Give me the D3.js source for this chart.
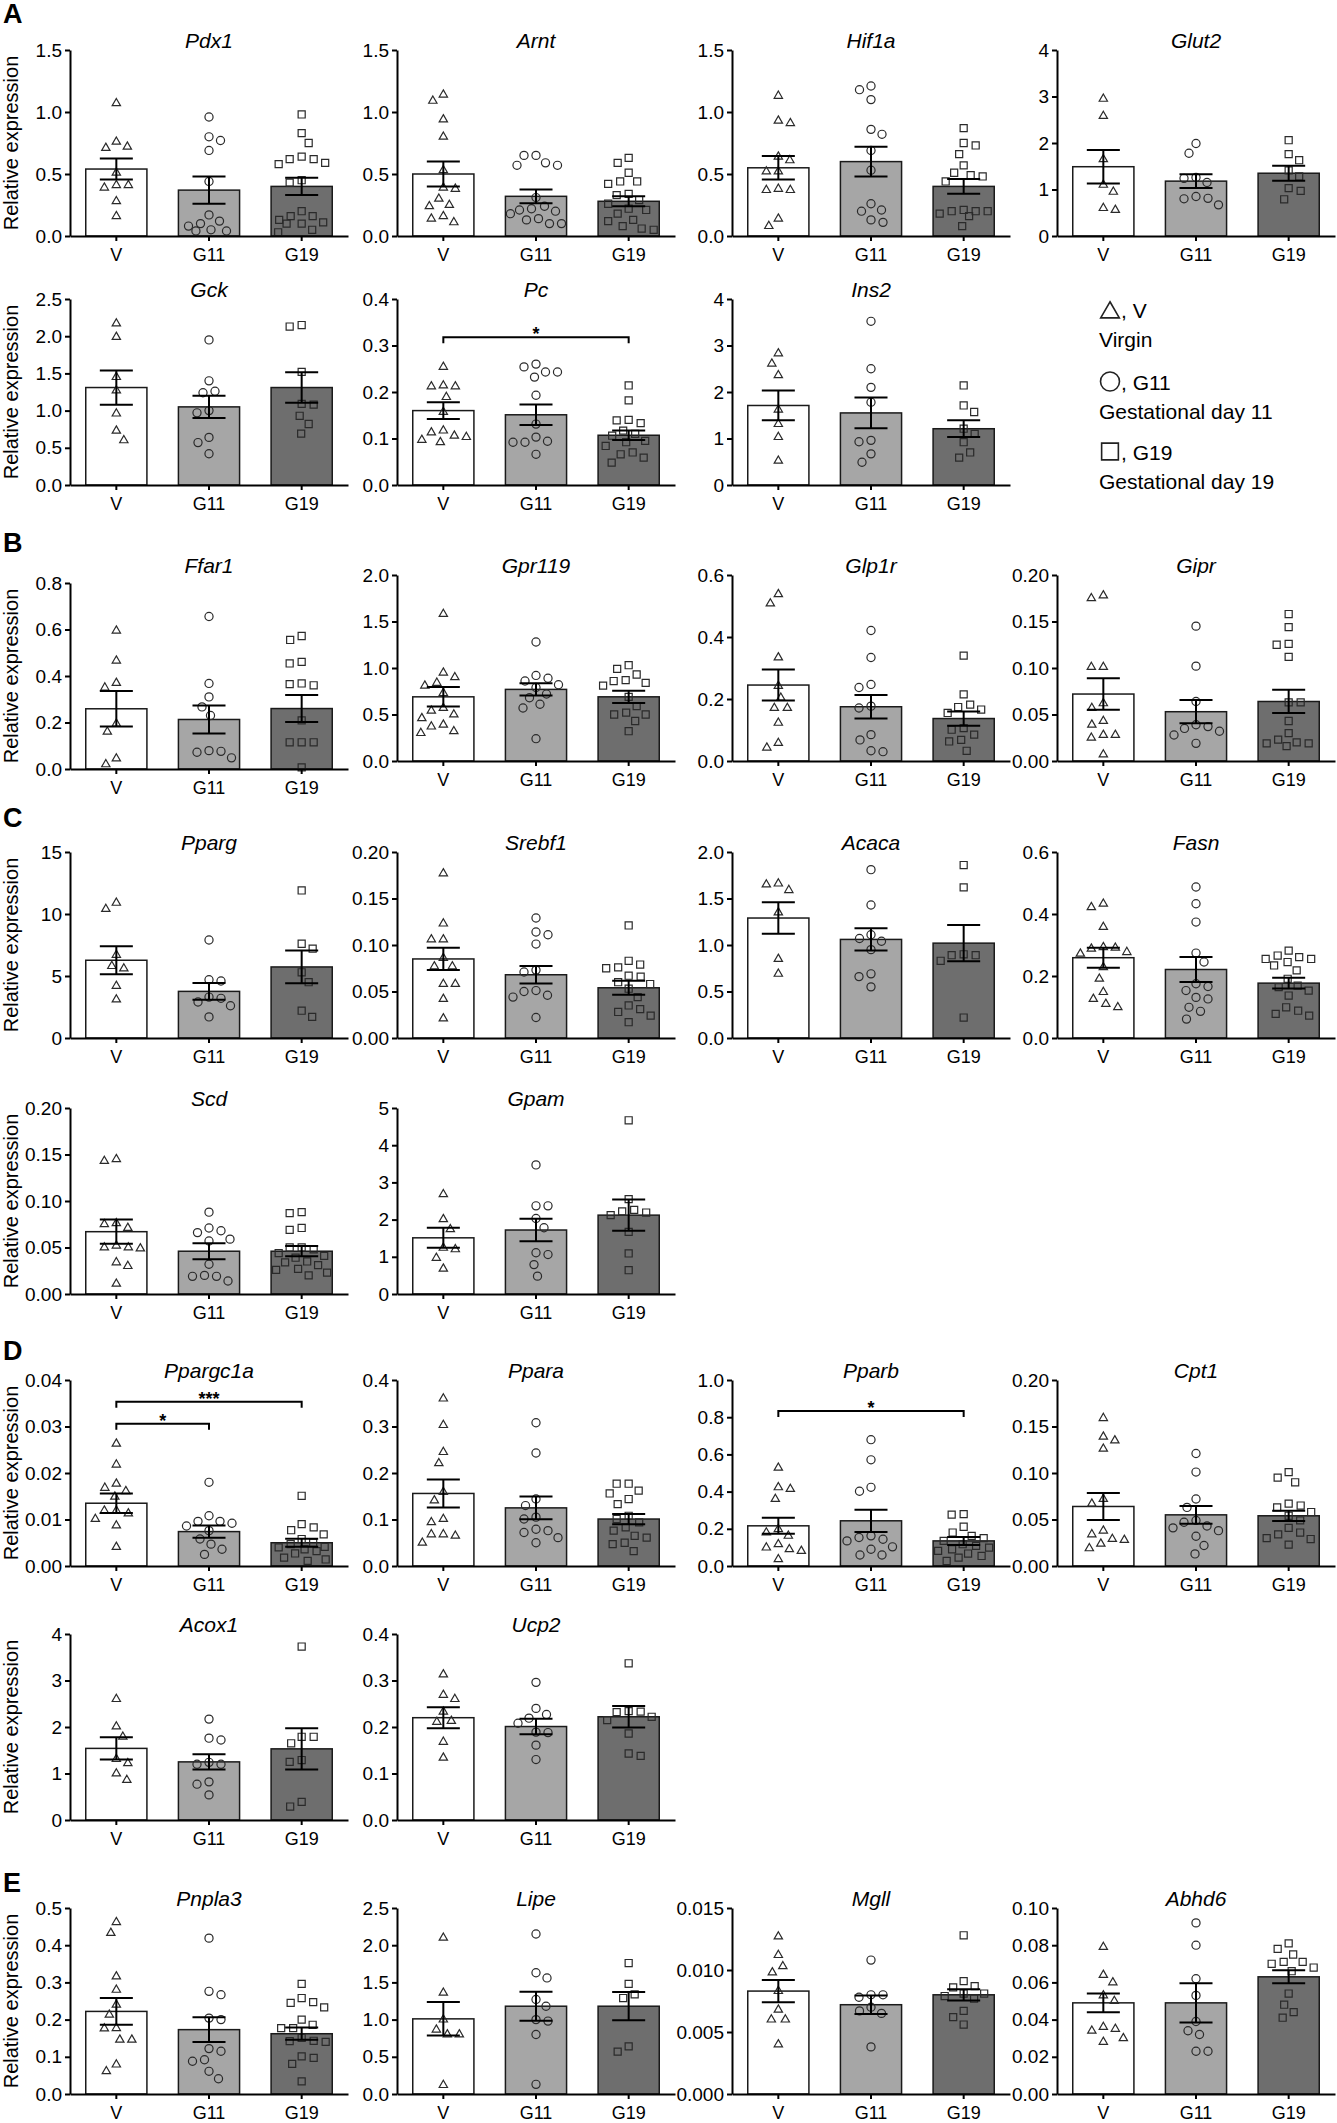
<!DOCTYPE html>
<html>
<head>
<meta charset="utf-8">
<script src="https://cdn.jsdelivr.net/npm/d3@7"></script>
<style>
  body { margin: 0; background: #fff; }
  svg { display: block; font-family: "Liberation Sans", Arial, sans-serif; }
</style>
</head>
<body>
<div id="chartHolder"></div>
<script>
// groups shown on every x axis
const groups = ["V", "G11", "G19"];
const groupNames = ["Virgin", "Gestational day 11", "Gestational day 19"];

// points per gene: [V, G11, G19], bar = mean, whisker = SEM, y tick labels
const pdx1 = [[1.07, 0.76, 0.72, 0.71, 0.51, 0.41, 0.41, 0.39, 0.28, 0.16],
  [0.96, 0.80, 0.77, 0.69, 0.44, 0.17, 0.12, 0.10, 0.08, 0.05, 0.04, 0.04],
  [0.98, 0.83, 0.75, 0.64, 0.62, 0.62, 0.59, 0.58, 0.45, 0.43, 0.20, 0.16, 0.16, 0.13, 0.11, 0.10, 0.10, 0.05, 0.03]];
const pdx1Mean = [0.54, 0.37, 0.40], pdx1Sem = [0.085, 0.11, 0.07];
const pdx1Ticks = ["0.0", "0.5", "1.0", "1.5"];

const arnt = [[1.14, 1.09, 0.94, 0.80, 0.53, 0.39, 0.38, 0.30, 0.25, 0.24, 0.16, 0.14, 0.11],
  [0.65, 0.65, 0.59, 0.57, 0.57, 0.31, 0.24, 0.22, 0.21, 0.20, 0.18, 0.14, 0.13, 0.10, 0.10],
  [0.63, 0.59, 0.51, 0.44, 0.44, 0.42, 0.34, 0.33, 0.29, 0.26, 0.22, 0.21, 0.18, 0.13, 0.12, 0.08, 0.06, 0.05]];
const arntMean = [0.50, 0.32, 0.28], arntSem = [0.10, 0.055, 0.04];
const arntTicks = ["0.0", "0.5", "1.0", "1.5"];

const hif1a = [[1.13, 0.93, 0.91, 0.64, 0.61, 0.52, 0.52, 0.38, 0.37, 0.37, 0.14, 0.08],
  [1.21, 1.18, 1.10, 0.86, 0.82, 0.69, 0.53, 0.26, 0.21, 0.20, 0.13, 0.11],
  [0.87, 0.75, 0.73, 0.66, 0.57, 0.51, 0.49, 0.48, 0.44, 0.21, 0.20, 0.20, 0.20, 0.18, 0.16, 0.08]];
const hif1aMean = [0.55, 0.60, 0.40], hif1aSem = [0.095, 0.12, 0.06];
const hif1aTicks = ["0.0", "0.5", "1.0", "1.5"];

const glut2 = [[2.95, 2.58, 1.65, 1.10, 0.95, 0.60, 0.56],
  [1.99, 1.78, 1.26, 1.24, 1.15, 0.85, 0.81, 0.80, 0.67],
  [2.06, 1.76, 1.63, 1.41, 1.28, 1.03, 0.97, 0.79]];
const glut2Mean = [1.49, 1.18, 1.35], glut2Sem = [0.36, 0.15, 0.16];
const glut2Ticks = ["0", "1", "2", "3", "4"];

const gck = [[2.17, 1.99, 1.45, 1.27, 0.96, 0.73, 0.60],
  [1.95, 1.40, 1.26, 1.24, 1.00, 0.97, 0.64, 0.57, 0.42],
  [2.15, 2.13, 1.52, 1.09, 1.08, 0.93, 0.82, 0.69]];
const gckMean = [1.31, 1.05, 1.31], gckSem = [0.23, 0.15, 0.205];
const gckTicks = ["0.0", "0.5", "1.0", "1.5", "2.0", "2.5"];

const pc = [[0.254, 0.214, 0.212, 0.212, 0.189, 0.157, 0.117, 0.113, 0.106, 0.103, 0.097, 0.092],
  [0.260, 0.254, 0.243, 0.243, 0.232, 0.193, 0.131, 0.103, 0.094, 0.092, 0.092, 0.066],
  [0.214, 0.182, 0.140, 0.139, 0.133, 0.117, 0.110, 0.106, 0.095, 0.092, 0.084, 0.070, 0.066, 0.059, 0.048]];
const pcMean = [0.160, 0.151, 0.107], pcSem = [0.018, 0.022, 0.010];
const pcTicks = ["0.0", "0.1", "0.2", "0.3", "0.4"];

const ins2 = [[2.83, 2.61, 2.36, 1.62, 1.31, 1.03, 0.52],
  [3.52, 2.50, 2.10, 1.78, 0.96, 0.93, 0.67, 0.49],
  [2.14, 1.71, 1.57, 1.21, 1.10, 0.92, 0.70, 0.59]];
const ins2Mean = [1.71, 1.55, 1.21], ins2Sem = [0.32, 0.33, 0.18];
const ins2Ticks = ["0", "1", "2", "3", "4"];

const ffar1 = [[0.595, 0.466, 0.37, 0.35, 0.195, 0.16, 0.045, 0.02],
  [0.656, 0.368, 0.31, 0.267, 0.23, 0.079, 0.076, 0.072, 0.048],
  [0.572, 0.555, 0.461, 0.454, 0.368, 0.365, 0.36, 0.209, 0.115, 0.115, 0.115, 0.007]];
const ffar1Mean = [0.259, 0.213, 0.26], ffar1Sem = [0.076, 0.06, 0.058];
const ffar1Ticks = ["0.0", "0.2", "0.4", "0.6", "0.8"];

const gpr119 = [[1.58, 0.95, 0.90, 0.84, 0.81, 0.73, 0.57, 0.54, 0.50, 0.46, 0.39, 0.37, 0.32, 0.30],
  [1.28, 0.92, 0.89, 0.86, 0.82, 0.79, 0.72, 0.68, 0.61, 0.57, 0.24],
  [1.03, 0.99, 0.93, 0.87, 0.86, 0.84, 0.81, 0.69, 0.59, 0.52, 0.50, 0.50, 0.43, 0.32]];
const gpr119Mean = [0.69, 0.77, 0.69], gpr119Sem = [0.105, 0.065, 0.065];
const gpr119Ticks = ["0.0", "0.5", "1.0", "1.5", "2.0"];

const glp1r = [[0.538, 0.508, 0.334, 0.242, 0.204, 0.171, 0.171, 0.123, 0.058, 0.043],
  [0.421, 0.334, 0.247, 0.237, 0.177, 0.171, 0.085, 0.068, 0.033, 0.030],
  [0.340, 0.215, 0.182, 0.174, 0.166, 0.155, 0.106, 0.101, 0.085, 0.068, 0.063, 0.033]];
const glp1rMean = [0.245, 0.175, 0.137], glp1rSem = [0.05, 0.038, 0.023];
const glp1rTicks = ["0.0", "0.2", "0.4", "0.6"];

const gipr = [[0.178, 0.175, 0.101, 0.101, 0.062, 0.057, 0.043, 0.039, 0.028, 0.028, 0.025, 0.007],
  [0.145, 0.102, 0.064, 0.039, 0.037, 0.035, 0.032, 0.028, 0.019],
  [0.158, 0.144, 0.126, 0.125, 0.112, 0.063, 0.063, 0.043, 0.030, 0.023, 0.020, 0.019, 0.019, 0.016]];
const giprMean = [0.072, 0.053, 0.064], giprSem = [0.017, 0.0125, 0.0125];
const giprTicks = ["0.00", "0.05", "0.10", "0.15", "0.20"];

const pparg = [[10.9, 10.4, 6.7, 5.8, 5.6, 4.2, 3.1],
  [7.9, 4.7, 4.6, 3.3, 3.2, 2.9, 2.6, 1.7],
  [11.9, 7.6, 7.2, 5.3, 4.5, 2.2, 1.7]];
const ppargMean = [6.27, 3.76, 5.73], ppargSem = [1.12, 0.67, 1.32];
const ppargTicks = ["0", "5", "10", "15"];

const srebf1 = [[0.177, 0.123, 0.106, 0.106, 0.086, 0.077, 0.077, 0.058, 0.058, 0.042, 0.021],
  [0.129, 0.114, 0.111, 0.101, 0.073, 0.071, 0.051, 0.050, 0.046, 0.044, 0.022],
  [0.121, 0.083, 0.079, 0.076, 0.075, 0.067, 0.066, 0.060, 0.058, 0.053, 0.044, 0.035, 0.031, 0.028, 0.024, 0.017]];
const srebf1Mean = [0.085, 0.068, 0.054], srebf1Sem = [0.012, 0.0095, 0.0075];
const srebf1Ticks = ["0.00", "0.05", "0.10", "0.15", "0.20"];

const acaca = [[1.66, 1.65, 1.59, 1.35, 0.85, 0.69],
  [1.81, 1.43, 1.11, 1.07, 1.04, 0.95, 0.69, 0.66, 0.55],
  [1.86, 1.62, 0.90, 0.89, 0.89, 0.83, 0.22]];
const acacaMean = [1.29, 1.06, 1.02], acacaSem = [0.17, 0.12, 0.195];
const acacaTicks = ["0.0", "0.5", "1.0", "1.5", "2.0"];

const fasn = [[0.433, 0.422, 0.358, 0.293, 0.291, 0.288, 0.277, 0.272, 0.228, 0.191, 0.148, 0.126, 0.110, 0.099],
  [0.487, 0.433, 0.374, 0.274, 0.245, 0.175, 0.166, 0.153, 0.131, 0.126, 0.099, 0.086, 0.061],
  [0.282, 0.266, 0.261, 0.255, 0.255, 0.245, 0.234, 0.218, 0.191, 0.169, 0.164, 0.153, 0.137, 0.099, 0.088, 0.078, 0.072]];
const fasnMean = [0.259, 0.221, 0.177], fasnSem = [0.032, 0.04, 0.017];
const fasnTicks = ["0.0", "0.2", "0.4", "0.6"];

const scd = [[0.145, 0.143, 0.076, 0.075, 0.071, 0.052, 0.050, 0.050, 0.049, 0.034, 0.030, 0.011],
  [0.088, 0.071, 0.068, 0.066, 0.059, 0.057, 0.032, 0.020, 0.019, 0.019, 0.014],
  [0.088, 0.087, 0.071, 0.069, 0.050, 0.050, 0.048, 0.044, 0.041, 0.039, 0.035, 0.034, 0.031, 0.027, 0.026, 0.023, 0.020]];
const scdMean = [0.067, 0.046, 0.046], scdSem = [0.013, 0.0085, 0.0055];
const scdTicks = ["0.00", "0.05", "0.10", "0.15", "0.20"];

const gpam = [[2.68, 2.01, 1.74, 1.24, 1.20, 0.97, 0.68],
  [3.47, 2.37, 2.37, 2.03, 1.78, 1.11, 1.06, 0.79, 0.48],
  [4.67, 2.55, 2.26, 2.22, 2.19, 2.12, 1.67, 1.09, 0.64]];
const gpamMean = [1.51, 1.72, 2.12], gpamSem = [0.27, 0.30, 0.42];
const gpamTicks = ["0", "1", "2", "3", "4", "5"];

const ppargc1a = [[0.0263, 0.0218, 0.0177, 0.0168, 0.0161, 0.0149, 0.0119, 0.0119, 0.0113, 0.0101, 0.0087, 0.0041],
  [0.0180, 0.0108, 0.0096, 0.0096, 0.0092, 0.0086, 0.0076, 0.0058, 0.0047, 0.0036, 0.0025],
  [0.0151, 0.0090, 0.0083, 0.0077, 0.0068, 0.0058, 0.0050, 0.0047, 0.0041, 0.0040, 0.0036, 0.0032, 0.0027, 0.0018, 0.0014, 0.0011]];
const ppargc1aMean = [0.0135, 0.0074, 0.0050], ppargc1aSem = [0.0021, 0.0013, 0.00085];
const ppargc1aTicks = ["0.00", "0.01", "0.02", "0.03", "0.04"];

const ppara = [[0.360, 0.303, 0.245, 0.221, 0.159, 0.141, 0.101, 0.094, 0.068, 0.068, 0.065, 0.050],
  [0.308, 0.243, 0.144, 0.130, 0.105, 0.101, 0.079, 0.076, 0.072, 0.061, 0.050],
  [0.177, 0.177, 0.162, 0.156, 0.144, 0.133, 0.108, 0.101, 0.094, 0.083, 0.076, 0.065, 0.061, 0.050, 0.047, 0.032]];
const pparaMean = [0.156, 0.125, 0.101], pparaSem = [0.030, 0.0245, 0.011];
const pparaTicks = ["0.0", "0.1", "0.2", "0.3", "0.4"];

const pparb = [[0.528, 0.423, 0.414, 0.360, 0.198, 0.180, 0.162, 0.117, 0.099, 0.090, 0.081, 0.036],
  [0.679, 0.571, 0.423, 0.402, 0.162, 0.153, 0.144, 0.135, 0.103, 0.090, 0.059, 0.059],
  [0.279, 0.276, 0.211, 0.180, 0.162, 0.150, 0.135, 0.117, 0.108, 0.099, 0.090, 0.081, 0.067, 0.054, 0.045, 0.027]];
const pparbMean = [0.216, 0.243, 0.135], pparbSem = [0.043, 0.06, 0.0215];
const pparbTicks = ["0.0", "0.2", "0.4", "0.6", "0.8", "1.0"];

const cpt1 = [[0.159, 0.139, 0.135, 0.126, 0.072, 0.067, 0.038, 0.034, 0.029, 0.028, 0.024, 0.019],
  [0.121, 0.101, 0.072, 0.063, 0.049, 0.047, 0.043, 0.041, 0.038, 0.032, 0.022, 0.013],
  [0.101, 0.095, 0.090, 0.067, 0.065, 0.063, 0.058, 0.054, 0.049, 0.041, 0.036, 0.034, 0.030, 0.029, 0.023]];
const cpt1Mean = [0.064, 0.055, 0.054], cpt1Sem = [0.0145, 0.0095, 0.0055];
const cpt1Ticks = ["0.00", "0.05", "0.10", "0.15", "0.20"];

const acox1 = [[2.60, 2.01, 1.79, 1.31, 1.22, 1.00, 0.86],
  [2.17, 1.76, 1.72, 1.24, 1.20, 1.20, 0.82, 0.77, 0.54],
  [3.73, 1.79, 1.79, 1.65, 1.29, 1.25, 0.39, 0.29]];
const acox1Mean = [1.54, 1.25, 1.53], acox1Sem = [0.24, 0.165, 0.445];
const acox1Ticks = ["0", "1", "2", "3", "4"];

const ucp2 = [[0.313, 0.269, 0.260, 0.233, 0.213, 0.211, 0.168, 0.134],
  [0.296, 0.240, 0.227, 0.219, 0.208, 0.189, 0.188, 0.161, 0.130],
  [0.337, 0.234, 0.233, 0.232, 0.222, 0.215, 0.186, 0.143, 0.138]];
const ucp2Mean = [0.220, 0.201, 0.222], ucp2Sem = [0.0225, 0.0165, 0.023];
const ucp2Ticks = ["0.0", "0.1", "0.2", "0.3", "0.4"];

const pnpla3 = [[0.462, 0.433, 0.316, 0.280, 0.240, 0.213, 0.177, 0.176, 0.146, 0.146, 0.079, 0.061],
  [0.419, 0.276, 0.267, 0.204, 0.200, 0.122, 0.115, 0.092, 0.088, 0.061, 0.041],
  [0.296, 0.258, 0.247, 0.245, 0.233, 0.200, 0.186, 0.177, 0.177, 0.151, 0.143, 0.142, 0.140, 0.101, 0.097, 0.081, 0.034]];
const pnpla3Mean = [0.222, 0.173, 0.162], pnpla3Sem = [0.036, 0.033, 0.0165];
const pnpla3Ticks = ["0.0", "0.1", "0.2", "0.3", "0.4", "0.5"];

const lipe = [[2.10, 1.36, 1.00, 0.865, 0.80, 0.80, 0.12],
  [2.15, 1.63, 1.56, 1.27, 1.18, 1.00, 0.98, 0.80, 0.13],
  [1.76, 1.48, 1.34, 1.29, 0.64, 0.57]];
const lipeMean = [1.01, 1.18, 1.18], lipeSem = [0.225, 0.195, 0.19];
const lipeTicks = ["0.0", "0.5", "1.0", "1.5", "2.0", "2.5"];

const mgll = [[0.0127, 0.0112, 0.0103, 0.0098, 0.0083, 0.0068, 0.0060, 0.0060, 0.0040],
  [0.0108, 0.0080, 0.0080, 0.0078, 0.0070, 0.0067, 0.0065, 0.0038],
  [0.0128, 0.0091, 0.0087, 0.0086, 0.0081, 0.0081, 0.0079, 0.0077, 0.0067, 0.0062, 0.0056]];
const mgllMean = [0.0083, 0.0072, 0.0080], mgllSem = [0.0009, 0.00075, 0.00045];
const mgllTicks = ["0.000", "0.005", "0.010", "0.015"];

const abhd6 = [[0.079, 0.064, 0.060, 0.053, 0.050, 0.036, 0.035, 0.034, 0.030, 0.028],
  [0.092, 0.080, 0.062, 0.053, 0.039, 0.034, 0.032, 0.023, 0.023],
  [0.081, 0.078, 0.075, 0.071, 0.071, 0.070, 0.068, 0.066, 0.054, 0.048, 0.044, 0.041]];
const abhd6Mean = [0.049, 0.049, 0.063], abhd6Sem = [0.005, 0.0105, 0.0035];
const abhd6Ticks = ["0.00", "0.02", "0.04", "0.06", "0.08", "0.10"];

// significance brackets
const sigGenes = ["Pc", "Ppargc1a", "Ppargc1a", "Pparb"];
const sigFrom = ["V", "V", "V", "V"];
const sigTo = ["G19", "G11", "G19", "G19"];
const sigLevel = [0.318, 0.0306, 0.0353, 0.834];
const sigLabels = ["*", "*", "***", "*"];

function swarm(vals, y, dist, maxOff) {
  // greedy beeswarm so overlapping points spread sideways, kept inside the bar
  const order = vals.map((v, i) => i).sort((a, b) => vals[b] - vals[a]);
  const placed = [];
  const xs = new Array(vals.length);
  order.forEach((i, k) => {
    const yi = y(vals[i]);
    let pick = null;
    for (let s = 0; s <= maxOff; s += 0.5) {
      const cands = s === 0 ? [0] : (k % 2 ? [-s, s] : [s, -s]);
      const ok = cands.find(c => placed.every(p => (p.x - c) ** 2 + (p.y - yi) ** 2 >= dist * dist));
      if (ok !== undefined) { pick = ok; break; }
    }
    if (pick === null) {
      // no free slot: take the spot furthest from its neighbours
      let best = 0, bestD = -1;
      for (let c = -maxOff; c <= maxOff; c += 0.5) {
        const d = d3.min(placed, p => (p.x - c) ** 2 + (p.y - yi) ** 2);
        if (d > bestD) { bestD = d; best = c; }
      }
      pick = best;
    }
    xs[i] = pick;
    placed.push({x: pick, y: yi});
  });
  return xs;
}

function GetChart() {
  const width = 1337;
  const height = 2123;
  const svg = d3.select("#chartHolder")
    .append("svg")
    .attr("width", width)
    .attr("height", height);

  const rowTops = [50, 299, 575, 852, 1108, 1380, 1634, 1908];
  const colLefts = [70, 397, 732, 1057];
  const plotW = 278, plotH = 186;
  const fills = ["#ffffff", "#a6a6a6", "#6e6e6e"];
  const shapes = [d3.symbolTriangle, d3.symbolCircle, d3.symbolSquare];
  const shapeSize = [30, 52, 50];

  const panels = [
    ["Pdx1", pdx1, pdx1Mean, pdx1Sem, pdx1Ticks, 0, 0],
    ["Arnt", arnt, arntMean, arntSem, arntTicks, 0, 1],
    ["Hif1a", hif1a, hif1aMean, hif1aSem, hif1aTicks, 0, 2],
    ["Glut2", glut2, glut2Mean, glut2Sem, glut2Ticks, 0, 3],
    ["Gck", gck, gckMean, gckSem, gckTicks, 1, 0],
    ["Pc", pc, pcMean, pcSem, pcTicks, 1, 1],
    ["Ins2", ins2, ins2Mean, ins2Sem, ins2Ticks, 1, 2],
    ["Ffar1", ffar1, ffar1Mean, ffar1Sem, ffar1Ticks, 2, 0, 8],
    ["Gpr119", gpr119, gpr119Mean, gpr119Sem, gpr119Ticks, 2, 1],
    ["Glp1r", glp1r, glp1rMean, glp1rSem, glp1rTicks, 2, 2],
    ["Gipr", gipr, giprMean, giprSem, giprTicks, 2, 3],
    ["Pparg", pparg, ppargMean, ppargSem, ppargTicks, 3, 0],
    ["Srebf1", srebf1, srebf1Mean, srebf1Sem, srebf1Ticks, 3, 1],
    ["Acaca", acaca, acacaMean, acacaSem, acacaTicks, 3, 2],
    ["Fasn", fasn, fasnMean, fasnSem, fasnTicks, 3, 3],
    ["Scd", scd, scdMean, scdSem, scdTicks, 4, 0],
    ["Gpam", gpam, gpamMean, gpamSem, gpamTicks, 4, 1],
    ["Ppargc1a", ppargc1a, ppargc1aMean, ppargc1aSem, ppargc1aTicks, 5, 0],
    ["Ppara", ppara, pparaMean, pparaSem, pparaTicks, 5, 1],
    ["Pparb", pparb, pparbMean, pparbSem, pparbTicks, 5, 2],
    ["Cpt1", cpt1, cpt1Mean, cpt1Sem, cpt1Ticks, 5, 3],
    ["Acox1", acox1, acox1Mean, acox1Sem, acox1Ticks, 6, 0],
    ["Ucp2", ucp2, ucp2Mean, ucp2Sem, ucp2Ticks, 6, 1],
    ["Pnpla3", pnpla3, pnpla3Mean, pnpla3Sem, pnpla3Ticks, 7, 0],
    ["Lipe", lipe, lipeMean, lipeSem, lipeTicks, 7, 1],
    ["Mgll", mgll, mgllMean, mgllSem, mgllTicks, 7, 2],
    ["Abhd6", abhd6, abhd6Mean, abhd6Sem, abhd6Ticks, 7, 3]
  ].map(r => ({name: r[0], pts: r[1], mean: r[2], sem: r[3], ticks: r[4], row: r[5], col: r[6], dy: r[7] || 0}));

  const scales = {};

  panels.forEach(p => {
    const top = rowTops[p.row] + p.dy;
    const g = svg.append("g")
      .attr("transform", "translate(" + colLefts[p.col] + "," + top + ")");

    const tickVals = p.ticks.map(Number);
    const yScale = d3.scaleLinear()
      .domain([0, d3.max(tickVals)])
      .range([plotH, 0]);
    const xScale = d3.scaleBand()
      .domain(groups)
      .range([0, plotW])
      .paddingInner(0.34)
      .paddingOuter(0.17);
    scales[p.name] = {x: xScale, y: yScale, g: g};
    const bw = xScale.bandwidth();

    // bars
    g.selectAll(".bar")
      .data(groups)
      .enter()
      .append("rect")
      .attr("class", "bar")
      .attr("x", d => xScale(d))
      .attr("width", bw)
      .attr("y", (d, i) => yScale(p.mean[i]))
      .attr("height", (d, i) => plotH - yScale(p.mean[i]))
      .style("fill", (d, i) => fills[i])
      .style("stroke", "#1a1a1a")
      .style("stroke-width", 1.5);

    // individual points
    groups.forEach((grp, i) => {
      const offs = swarm(p.pts[i], yScale, 12, bw / 2 - 5);
      g.selectAll(".pt" + i)
        .data(p.pts[i])
        .enter()
        .append("path")
        .attr("class", "pt" + i)
        .attr("d", d3.symbol().type(shapes[i]).size(shapeSize[i]))
        .attr("transform", (d, k) => "translate(" + (xScale(grp) + bw / 2 + offs[k]) + "," + yScale(d) + ")")
        .style("fill", "none")
        .style("stroke", "#2a2a2a")
        .style("stroke-width", 1.2);
    });

    // error bars (mean +/- SEM)
    const cap = bw * 0.27;
    groups.forEach((grp, i) => {
      const cx = xScale(grp) + bw / 2;
      const hi = yScale(p.mean[i] + p.sem[i]);
      const lo = yScale(p.mean[i] - p.sem[i]);
      g.append("path")
        .attr("d", "M" + (cx - cap) + "," + hi + "H" + (cx + cap) +
          "M" + cx + "," + hi + "V" + lo +
          "M" + (cx - cap) + "," + lo + "H" + (cx + cap))
        .style("fill", "none")
        .style("stroke", "#000")
        .style("stroke-width", 2);
    });

    // axes
    const xAxis = d3.axisBottom(xScale).tickSize(5).tickSizeOuter(0).tickPadding(7);
    const yAxis = d3.axisLeft(yScale)
      .tickValues(tickVals)
      .tickFormat((d, i) => p.ticks[i])
      .tickSize(5)
      .tickSizeOuter(0)
      .tickPadding(3);
    const xg = g.append("g").attr("transform", "translate(0," + plotH + ")").call(xAxis);
    const yg = g.append("g").call(yAxis);
    [xg, yg].forEach(a => {
      a.selectAll("path, line").style("stroke", "#000").style("stroke-width", 2);
      a.selectAll("text").style("fill", "#000")
        .style("font-family", "'Liberation Sans', Arial, sans-serif");
    });
    xg.selectAll("text").style("font-size", "18px");
    yg.selectAll("text").style("font-size", "19px");

    // gene title
    svg.append("text")
      .attr("x", colLefts[p.col] + plotW / 2)
      .attr("y", rowTops[p.row] - 2)
      .attr("text-anchor", "middle")
      .style("font-size", "21px")
      .style("font-style", "italic")
      .text(p.name);

    // y axis title on the first column
    if (p.col === 0) {
      svg.append("text")
        .attr("transform", "translate(18," + (top + plotH / 2) + ") rotate(-90)")
        .attr("text-anchor", "middle")
        .style("font-size", "20px")
        .text("Relative expression");
    }
  });

  // significance brackets
  sigGenes.forEach((name, i) => {
    const s = scales[name];
    const x1 = s.x(sigFrom[i]) + s.x.bandwidth() / 2;
    const x2 = s.x(sigTo[i]) + s.x.bandwidth() / 2;
    const yb = s.y(sigLevel[i]);
    s.g.append("path")
      .attr("d", "M" + x1 + "," + (yb + 6) + "V" + yb + "H" + x2 + "V" + (yb + 6))
      .style("fill", "none")
      .style("stroke", "#000")
      .style("stroke-width", 2);
    s.g.append("text")
      .attr("x", (x1 + x2) / 2)
      .attr("y", yb + 3)
      .attr("text-anchor", "middle")
      .style("font-size", "18px")
      .style("font-weight", "bold")
      .text(sigLabels[i]);
  });

  // panel letters
  const letters = ["A", "B", "C", "D", "E"];
  const letterY = [23, 552, 827, 1360, 1892];
  letters.forEach((l, i) => {
    svg.append("text")
      .attr("x", 3)
      .attr("y", letterY[i])
      .style("font-size", "27px")
      .style("font-weight", "bold")
      .text(l);
  });

  // legend
  const legBase = [318, 390, 460];
  const legCenter = [312.5, 381.5, 451.5];
  const legendSize = [150, 283, 280];
  groups.forEach((grp, i) => {
    svg.append("path")
      .attr("d", d3.symbol().type(shapes[i]).size(legendSize[i]))
      .attr("transform", "translate(1110," + legCenter[i] + ")")
      .style("fill", "none")
      .style("stroke", "#222")
      .style("stroke-width", 1.6);
    svg.append("text")
      .attr("x", 1121)
      .attr("y", legBase[i])
      .style("font-size", "21px")
      .text(", " + grp);
    svg.append("text")
      .attr("x", 1099)
      .attr("y", legBase[i] + 28.5)
      .style("font-size", "21px")
      .text(groupNames[i]);
  });
}

GetChart();
</script>
</body>
</html>
